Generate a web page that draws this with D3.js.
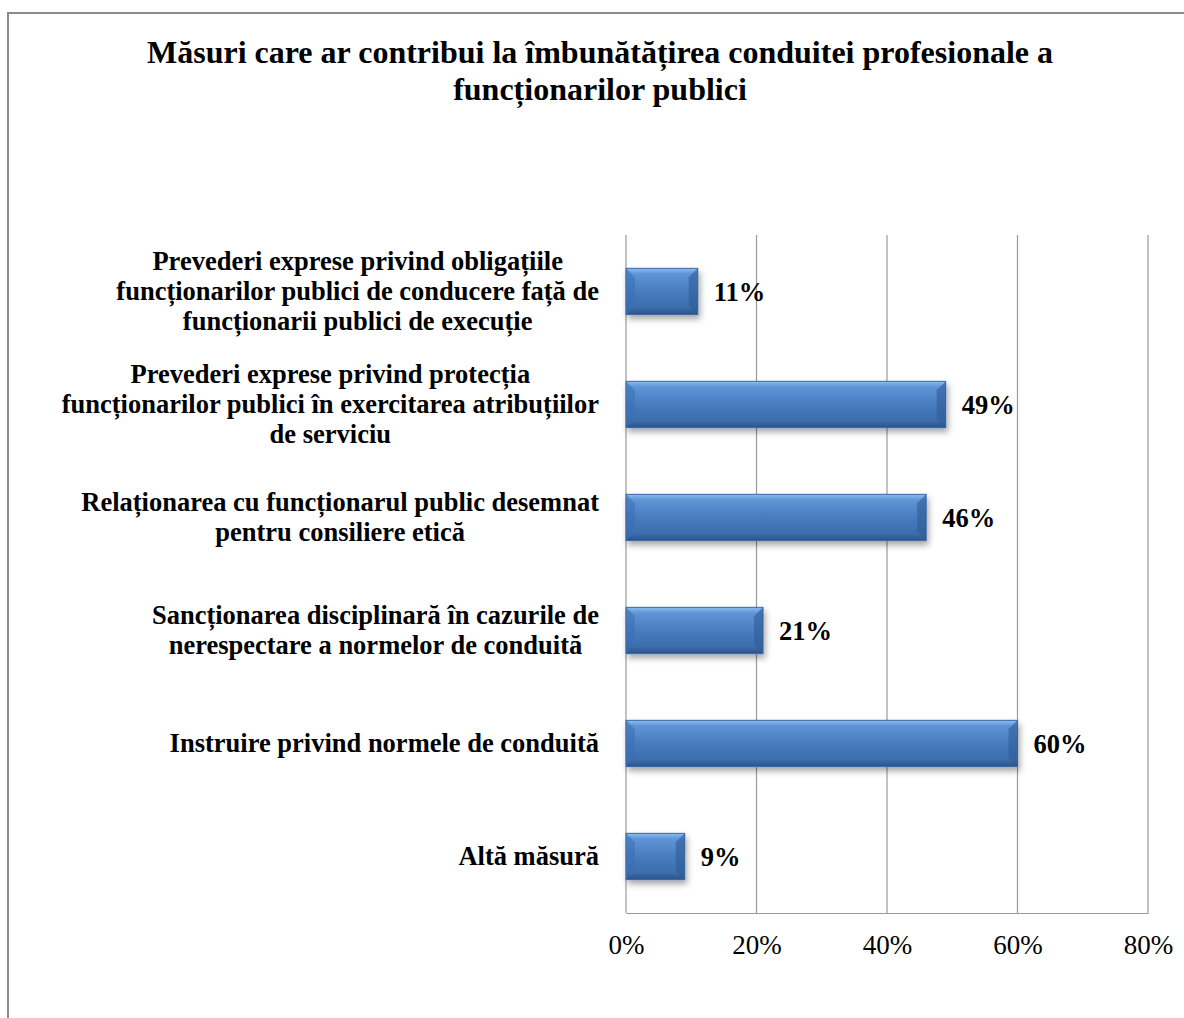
<!DOCTYPE html>
<html>
<head>
<meta charset="utf-8">
<script src="https://cdn.jsdelivr.net/npm/d3@7"></script>
<style>
  body { margin: 0; background: #fff; }
  svg { display: block; font-family: "Liberation Serif", "Times New Roman", serif; }
</style>
</head>
<body>
<svg id="chart" width="1184" height="1018"></svg>
<script>
// data
var titleLines = ["Măsuri care ar contribui la îmbunătățirea conduitei profesionale a", "funcționarilor publici"];
var categories = [
  ["Prevederi exprese privind obligațiile", "funcționarilor publici de conducere față de", "funcționarii publici de execuție"],
  ["Prevederi exprese privind protecția", "funcționarilor publici în exercitarea atribuțiilor", "de serviciu"],
  ["Relaționarea cu funcționarul public desemnat", "pentru consiliere etică"],
  ["Sancționarea disciplinară în cazurile de", "nerespectare a normelor de conduită"],
  ["Instruire privind normele de conduită"],
  ["Altă măsură"]
];
var values = [0.11, 0.49, 0.46, 0.21, 0.60, 0.09];
var ticks = [0, 0.2, 0.4, 0.6, 0.8];

var svg = d3.select("#chart");
var margin = {top: 235, right: 35, bottom: 105, left: 626};
var W = 1184, H = 1018;

// frame
svg.append("path")
  .attr("d", "M8," + H + " V13 H" + W)
  .attr("fill", "none")
  .attr("stroke", "#8c8c8c")
  .attr("stroke-width", 2);

// title
svg.append("text")
  .attr("x", 600).attr("y", 63)
  .attr("text-anchor", "middle")
  .attr("font-size", 32).attr("font-weight", "bold")
  .selectAll("tspan").data(titleLines).enter().append("tspan")
  .attr("x", 600)
  .attr("dy", function(d, i) { return i ? 37 : 0; })
  .text(function(d) { return d; });

var x = d3.scaleLinear().domain([0, 0.8]).range([margin.left, W - margin.right - 1]);
var y = d3.scaleBand().domain(d3.range(categories.length))
  .range([margin.top, H - margin.bottom])
  .paddingInner(0.59).paddingOuter(0.295);

// gradients
var defs = svg.append("defs");
var g1 = defs.append("linearGradient").attr("id", "barGrad").attr("x1", 0).attr("y1", 0).attr("x2", 0).attr("y2", 1);
g1.append("stop").attr("offset", "0%").attr("stop-color", "#8cbdf0");
g1.append("stop").attr("offset", "12%").attr("stop-color", "#5e95d6");
g1.append("stop").attr("offset", "55%").attr("stop-color", "#4579bd");
g1.append("stop").attr("offset", "85%").attr("stop-color", "#3d6dac");
g1.append("stop").attr("offset", "100%").attr("stop-color", "#2b5288");
var f = defs.append("filter").attr("id", "shadow").attr("x", "-10%").attr("y", "-20%").attr("width", "130%").attr("height", "160%");
f.append("feDropShadow").attr("dx", 2).attr("dy", 4).attr("stdDeviation", 3)
  .attr("flood-color", "#000").attr("flood-opacity", 0.35);

// grid
var grid = svg.append("g");
grid.selectAll("line").data(ticks).enter().append("line")
  .attr("x1", function(d) { return x(d); }).attr("x2", function(d) { return x(d); })
  .attr("y1", margin.top).attr("y2", H - margin.bottom)
  .attr("stroke", "#9a9a9a").attr("stroke-width", 1.2);

// x axis
var xAxis = svg.append("g")
  .attr("transform", "translate(0," + (H - margin.bottom) + ")")
  .call(d3.axisBottom(x).tickValues(ticks).tickFormat(d3.format(".0%")).tickSize(0).tickPadding(0));
xAxis.select(".domain").attr("stroke", "#9a9a9a").attr("stroke-width", 1.2);
xAxis.selectAll("text").attr("font-size", 27).attr("fill", "#000")
  .attr("dy", null).attr("y", 41)
  .attr("font-family", "Liberation Serif, Times New Roman, serif");

// bars
var bars = svg.append("g").selectAll("g").data(values).enter().append("g");
bars.append("rect")
  .attr("x", x(0))
  .attr("y", function(d, i) { return y(i); })
  .attr("width", function(d) { return x(d) - x(0); })
  .attr("height", y.bandwidth())
  .attr("fill", "url(#barGrad)")
  .attr("stroke", "#3a69a8").attr("stroke-width", 1)
  .attr("filter", "url(#shadow)");
// bevel edges
bars.append("path")
  .attr("d", function(d, i) {
    var x0 = x(0), y0 = y(i), h = y.bandwidth(), b = 9;
    return "M" + x0 + "," + y0 + " L" + (x0 + b) + "," + (y0 + b) + " L" + (x0 + b) + "," + (y0 + h - b) + " L" + x0 + "," + (y0 + h) + " Z";
  })
  .attr("fill", "#3b6fb3").attr("opacity", 0.55);
bars.append("path")
  .attr("d", function(d, i) {
    var x1 = x(d), y0 = y(i), h = y.bandwidth(), b = 9;
    return "M" + x1 + "," + y0 + " L" + (x1 - b) + "," + (y0 + b) + " L" + (x1 - b) + "," + (y0 + h - b) + " L" + x1 + "," + (y0 + h) + " Z";
  })
  .attr("fill", "#2f5b96").attr("opacity", 0.6);

// value labels
bars.append("text")
  .attr("x", function(d) { return x(d) + 16; })
  .attr("y", function(d, i) { return y(i) + y.bandwidth() / 2 + 9; })
  .attr("font-size", 26.5).attr("font-weight", "bold")
  .text(function(d) { return Math.round(d * 100) + "%"; });

// category labels
var labelRight = 599, lineH = 30;
var labels = svg.append("g").selectAll("text").data(categories).enter().append("text")
  .attr("font-size", 26.5).attr("font-weight", "bold")
  .attr("text-anchor", "middle");
labels.each(function(lines, i) {
  var t = d3.select(this);
  var cy = y(i) + y.bandwidth() / 2;
  var top = cy - (lines.length - 1) * lineH / 2 + 8;
  lines.forEach(function(s, k) {
    t.append("tspan").attr("y", top + k * lineH).text(s);
  });
  var maxW = 0;
  t.selectAll("tspan").each(function() { maxW = Math.max(maxW, this.getComputedTextLength()); });
  t.selectAll("tspan").attr("x", labelRight - maxW / 2);
});
</script>
</body>
</html>
